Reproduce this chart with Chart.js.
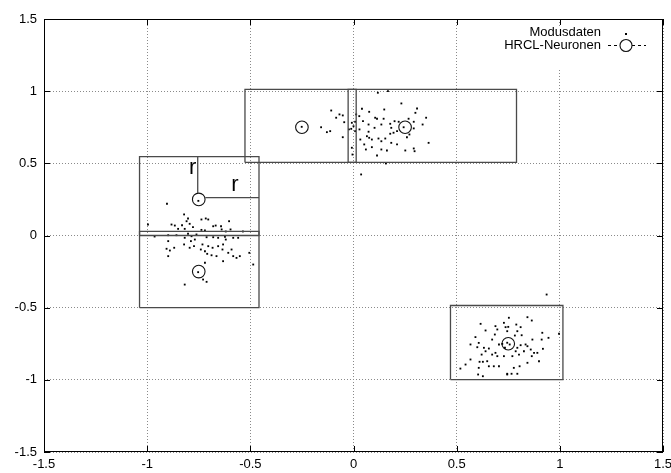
<!DOCTYPE html>
<html>
<head>
<meta charset="utf-8">
<script src="https://cdn.jsdelivr.net/npm/chart.js@4/dist/chart.umd.min.js"></script>
<style>
  html, body { margin: 0; padding: 0; background: #fff; }
  #wrap { width: 671px; height: 473px; }
</style>
</head>
<body>
<div id="wrap"><canvas id="c" width="671" height="473"></canvas></div>
<script>
// Tick labels for both axes
const xTickLabels = ['-1.5', '-1', '-0.5', '0', '0.5', '1', '1.5'];
const yTickLabels = ['-1.5', '-1', '-0.5', '0', '0.5', '1', '1.5'];

// Mode samples, three clusters [x, y]
const clusterA = [
  [-0.904,0.220],[-0.996,0.076],[-0.821,0.146],[-0.802,0.118],[-0.809,0.099],[-0.882,0.076],
  [-0.866,0.069],[-0.831,0.071],[-0.794,0.081],[-0.778,0.058],[-0.850,0.046],[-0.818,0.046],
  [-0.964,-0.007],[-0.898,0.002],[-0.858,0.002],[-0.802,0.012],[-0.785,-0.005],[-0.761,0.007],
  [-0.818,-0.016],[-0.821,-0.062],[-0.788,-0.039],[-0.769,-0.028],[-0.898,-0.039],[-0.906,-0.092],
  [-0.890,-0.104],[-0.869,-0.085],[-0.794,-0.085],[-0.898,-0.143],[-0.773,-0.074],[-0.818,-0.340],
  [-0.737,0.111],[-0.716,0.118],[-0.704,0.111],[-0.680,0.064],[-0.668,0.069],[-0.642,0.064],
  [-0.603,0.099],[-0.596,0.042],[-0.639,0.042],[-0.720,0.035],[-0.737,0.039],[-0.623,-0.009],
  [-0.583,-0.016],[-0.559,-0.016],[-0.656,-0.016],[-0.680,-0.012],[-0.712,-0.012],[-0.619,-0.028],
  [-0.632,-0.062],[-0.656,-0.074],[-0.683,-0.085],[-0.704,-0.074],[-0.732,-0.062],[-0.740,-0.097],
  [-0.720,-0.109],[-0.709,-0.127],[-0.688,-0.137],[-0.664,-0.143],[-0.635,-0.097],[-0.607,-0.120],
  [-0.583,-0.143],[-0.567,-0.155],[-0.551,-0.143],[-0.591,-0.097],[-0.505,-0.120],[-0.486,-0.201],
  [-0.632,-0.178],[-0.720,-0.189],[-0.729,-0.305],[-0.712,-0.321],[-0.536,0.028],[-0.619,0.028],
  [-0.752,0.240],[-0.753,-0.254]
];
const clusterB = [
  [-0.108,0.866],[-0.068,0.839],[-0.052,0.832],[-0.084,0.816],[-0.045,0.785],[-0.157,0.750],
  [-0.129,0.716],[-0.113,0.723],[-0.052,0.681],[-0.022,0.735],[-0.008,0.781],[0.000,0.757],
  [0.008,0.788],[-0.011,0.739],[0.008,0.723],[-0.008,0.608],[-0.005,0.561],[0.013,0.839],
  [0.028,0.827],[0.041,0.878],[0.046,0.792],[0.029,0.735],[0.033,0.665],[0.052,0.631],
  [0.037,0.423],[0.118,0.989],[0.167,1.000],[0.232,0.915],[0.149,0.873],[0.076,0.857],
  [0.105,0.816],[0.114,0.809],[0.146,0.809],[0.135,0.769],[0.178,0.774],[0.073,0.769],
  [0.102,0.746],[0.183,0.746],[0.219,0.788],[0.267,0.809],[0.292,0.788],[0.308,0.880],
  [0.300,0.850],[0.352,0.816],[0.335,0.769],[0.292,0.742],[0.243,0.750],[0.211,0.723],
  [0.194,0.712],[0.178,0.705],[0.073,0.719],[0.065,0.688],[0.076,0.677],[0.089,0.665],
  [0.121,0.672],[0.154,0.672],[0.135,0.653],[0.183,0.642],[0.211,0.631],[0.259,0.681],
  [0.271,0.700],[0.364,0.642],[0.089,0.612],[0.060,0.596],[0.135,0.596],[0.162,0.589],
  [0.251,0.589],[0.292,0.603],[0.296,0.584],[0.114,0.554],[0.157,0.499],[0.199,0.792],
  [-0.251,0.753]
];
const clusterC = [
  [0.616,-0.612],[0.640,-0.658],[0.688,-0.628],[0.697,-0.651],[0.685,-0.686],[0.729,-0.605],
  [0.737,-0.635],[0.745,-0.663],[0.753,-0.570],[0.591,-0.704],[0.672,-0.721],[0.607,-0.744],
  [0.567,-0.755],[0.600,-0.774],[0.632,-0.778],[0.656,-0.783],[0.705,-0.755],[0.721,-0.751],
  [0.734,-0.778],[0.640,-0.802],[0.621,-0.825],[0.672,-0.825],[0.688,-0.813],[0.697,-0.836],
  [0.729,-0.836],[0.567,-0.859],[0.543,-0.894],[0.518,-0.922],[0.611,-0.875],[0.627,-0.875],
  [0.648,-0.871],[0.656,-0.906],[0.607,-0.917],[0.680,-0.906],[0.705,-0.906],[0.604,-0.963],
  [0.627,-0.975],[0.745,-0.963],[0.936,-0.409],[0.843,-0.566],[0.864,-0.589],[0.750,-0.633],
  [0.789,-0.617],[0.810,-0.635],[0.794,-0.663],[0.782,-0.693],[0.815,-0.691],[0.915,-0.674],
  [0.867,-0.721],[0.912,-0.721],[0.945,-0.709],[0.996,-0.681],[0.834,-0.755],[0.810,-0.760],
  [0.794,-0.778],[0.786,-0.802],[0.843,-0.767],[0.859,-0.790],[0.826,-0.802],[0.802,-0.825],
  [0.770,-0.836],[0.875,-0.813],[0.891,-0.813],[0.918,-0.785],[0.864,-0.836],[0.843,-0.882],
  [0.805,-0.906],[0.777,-0.917],[0.899,-0.871],[0.745,-0.958],[0.766,-0.958],[0.794,-0.958],
  [0.757,-0.755],[0.745,-0.743]
];

// HRCL neuron centres
const neurons = [[-0.75, 0.25], [-0.75, -0.25], [-0.25, 0.75], [0.25, 0.75], [0.75, -0.75]];

// Neuron regions as boxes: [xMin, xMax, yMin, yMax]
const boxes = [
  [-1.037, -0.458, 0.000, 0.547],
  [-1.037, -0.458, -0.500, 0.028],
  [-0.526, 0.013, 0.506, 1.012],
  [-0.026, 0.790, 0.506, 1.012],
  [0.470, 1.015, -0.998, -0.485]
];

// Radius markers from the first neuron, and their labels
const radiusLines = [
  [[-0.755, 0.295], [-0.755, 0.547]],
  [[-0.718, 0.263], [-0.458, 0.263]]
];
const radiusLabels = [[-0.779, 0.471, 'r'], [-0.575, 0.353, 'r']];

const legendLabels = ['Modusdaten', 'HRCL-Neuronen'];

const FONT = "'Liberation Sans', Arial, Helvetica, sans-serif";
const toXY = p => ({ x: p[0], y: p[1] });

const datasets = [];
boxes.forEach(b => {
  datasets.push({
    data: [[b[0], b[2]], [b[1], b[2]], [b[1], b[3]], [b[0], b[3]], [b[0], b[2]]].map(toXY),
    showLine: true, pointRadius: 0, borderColor: '#4a4a4a', borderWidth: 1.3, fill: false
  });
});
radiusLines.forEach(l => {
  datasets.push({
    data: l.map(toXY), showLine: true, pointRadius: 0,
    borderColor: '#4a4a4a', borderWidth: 1.3, fill: false
  });
});
datasets.push({
  label: legendLabels[0],
  data: [...clusterA, ...clusterB, ...clusterC].map(toXY),
  pointStyle: 'rect', pointRadius: 1.3, borderWidth: 0,
  backgroundColor: '#000', showLine: false
});
datasets.push({
  label: legendLabels[1],
  data: neurons.map(toXY),
  pointStyle: 'circle', pointRadius: 6.3, borderWidth: 1.1,
  borderColor: '#111', backgroundColor: 'rgba(0,0,0,0)', showLine: false
});

// Frame, inward tick marks, "r" labels and legend
const decorations = {
  id: 'decorations',
  afterDatasetsDraw(chart) {
    const { ctx, chartArea: a, scales } = chart;
    const xs = scales.x, ys = scales.y;
    ctx.save();
    ctx.strokeStyle = '#000';
    ctx.lineWidth = 1;
    ctx.strokeRect(Math.round(a.left) + 0.5, Math.round(a.top) + 0.5,
                   Math.round(a.right - a.left) - 1, Math.round(a.bottom - a.top) - 1);
    const tl = 6;
    ctx.beginPath();
    xs.ticks.forEach(t => {
      const px = Math.round(xs.getPixelForValue(t.value)) + 0.5;
      ctx.moveTo(px, a.bottom); ctx.lineTo(px, a.bottom - tl);
      ctx.moveTo(px, a.top); ctx.lineTo(px, a.top + tl);
    });
    ys.ticks.forEach(t => {
      const py = Math.round(ys.getPixelForValue(t.value)) + 0.5;
      ctx.moveTo(a.left, py); ctx.lineTo(a.left + tl, py);
      ctx.moveTo(a.right, py); ctx.lineTo(a.right - tl, py);
    });
    ctx.stroke();

    // radius labels
    ctx.fillStyle = '#000';
    ctx.font = '22px ' + FONT;
    ctx.textAlign = 'center';
    ctx.textBaseline = 'middle';
    radiusLabels.forEach(r => {
      ctx.fillText(r[2], xs.getPixelForValue(r[0]), ys.getPixelForValue(r[1]));
    });

    // legend
    ctx.fillStyle = '#fff';
    ctx.fillRect(522, a.top + 7, 135, 44 - 7 + 6);
    ctx.fillStyle = '#000';
    ctx.font = '13px ' + FONT;
    ctx.textAlign = 'right';
    const textX = 601, sx = 626;
    const y1 = 32, y2 = 45;
    ctx.fillText(legendLabels[0], textX, y1);
    ctx.fillText(legendLabels[1], textX, y2);
    ctx.fillRect(sx - 1, y1 + 1, 2, 2);
    ctx.setLineDash([3, 3]);
    ctx.lineWidth = 1;
    ctx.strokeStyle = '#000';
    ctx.beginPath();
    ctx.moveTo(608, y2 + 0.5); ctx.lineTo(sx - 6, y2 + 0.5);
    ctx.moveTo(sx + 6, y2 + 0.5); ctx.lineTo(646, y2 + 0.5);
    ctx.stroke();
    ctx.setLineDash([]);
    ctx.lineWidth = 1.1;
    ctx.strokeStyle = '#111';
    ctx.beginPath();
    ctx.arc(sx, y2 + 0.5, 6, 0, Math.PI * 2);
    ctx.stroke();
    ctx.restore();
  }
};

new Chart(document.getElementById('c'), {
  type: 'scatter',
  data: { datasets },
  options: {
    responsive: false,
    animation: false,
    events: [],
    layout: { padding: { top: 19, right: 8, left: 0, bottom: 0 } },
    plugins: { legend: { display: false }, tooltip: { enabled: false } },
    scales: {
      x: {
        type: 'linear', min: -1.5, max: 1.5,
        afterFit: s => { s.height = 21; s.paddingLeft = 0; s.paddingRight = 0; },
        grid: { color: '#8a8a8a', lineWidth: 1, drawTicks: false },
        border: { display: false, dash: [1, 2] },
        ticks: {
          stepSize: 0.5, padding: 5, color: '#000', maxRotation: 0,
          font: { family: FONT, size: 13 },
          callback: (v, i) => xTickLabels[i]
        }
      },
      y: {
        type: 'linear', min: -1.5, max: 1.5,
        afterFit: s => { s.width = 44; s.paddingTop = 0; s.paddingBottom = 0; },
        grid: { color: '#8a8a8a', lineWidth: 1, drawTicks: false },
        border: { display: false, dash: [1, 2] },
        ticks: {
          stepSize: 0.5, padding: 7, color: '#000',
          font: { family: FONT, size: 13 },
          callback: (v, i) => yTickLabels[i]
        }
      }
    }
  },
  plugins: [decorations]
});
</script>
</body>
</html>
